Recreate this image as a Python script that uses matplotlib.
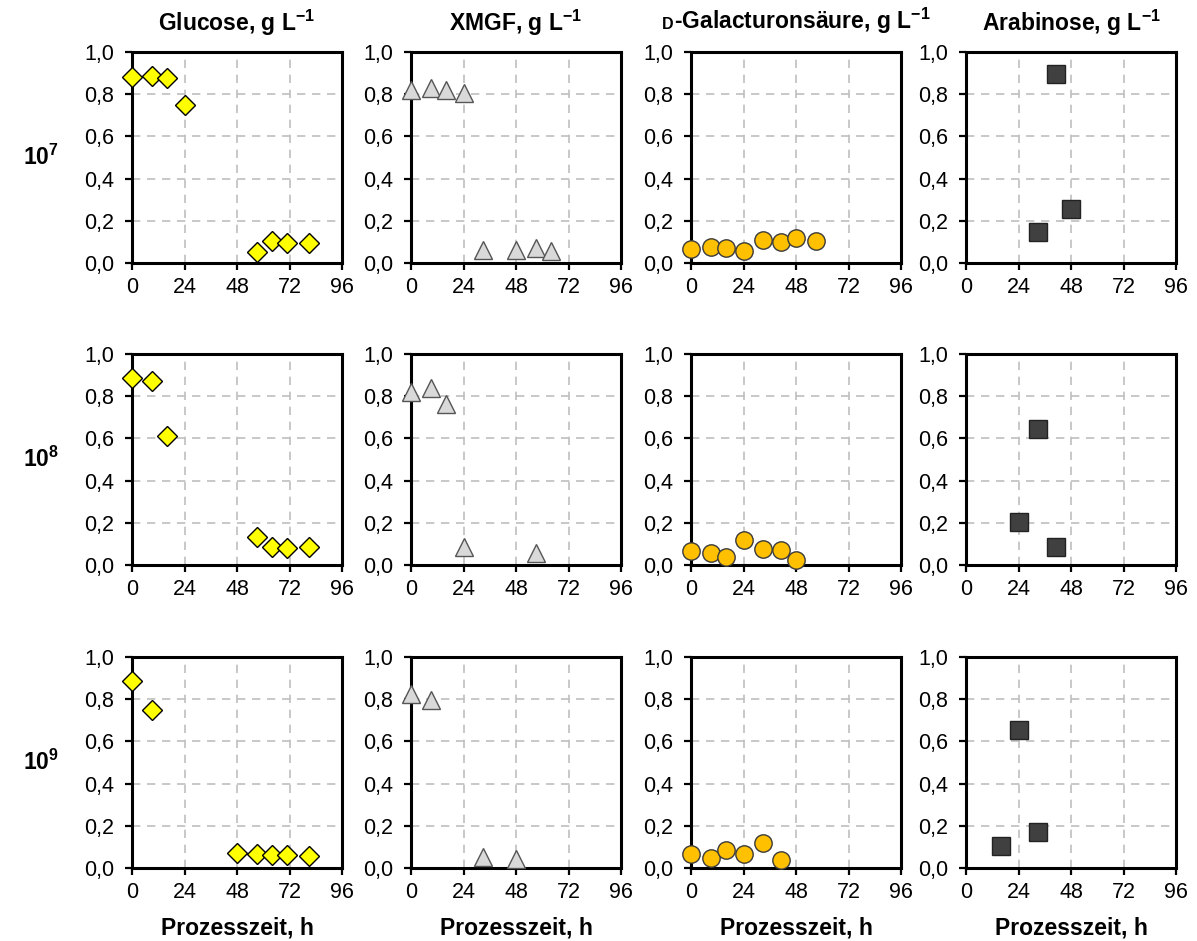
import matplotlib
matplotlib.use("Agg")
import matplotlib.pyplot as plt
from matplotlib.ticker import FuncFormatter
from matplotlib.offsetbox import TextArea, HPacker, AnchoredOffsetbox

plt.rcParams['font.family'] = ['Liberation Sans', 'DejaVu Sans']
plt.rcParams['mathtext.fontset'] = 'custom'
plt.rcParams['mathtext.rm'] = 'Liberation Sans'
plt.rcParams['mathtext.bf'] = 'Liberation Sans:bold'

# inoculum rows
rows = ["10$^{\\mathbf{7}}$", "10$^{\\mathbf{8}}$", "10$^{\\mathbf{9}}$"]

# Glucose
glc_t = [[0, 9, 16, 24, 57, 64, 71, 81],
         [0, 9, 16, 57, 64, 71, 81],
         [0, 9, 48, 57, 64, 71, 81]]
glc_c = [[0.88, 0.885, 0.875, 0.75, 0.05, 0.105, 0.095, 0.095],
         [0.885, 0.87, 0.61, 0.135, 0.085, 0.08, 0.085],
         [0.885, 0.75, 0.072, 0.065, 0.06, 0.063, 0.058]]

# XMGF
xmgf_t = [[0, 9, 16, 24, 33, 48, 57, 64],
          [0, 9, 16, 24, 57],
          [0, 9, 33, 48]]
xmgf_c = [[0.82, 0.83, 0.82, 0.805, 0.06, 0.06, 0.07, 0.055],
          [0.82, 0.84, 0.765, 0.085, 0.055],
          [0.825, 0.795, 0.05, 0.045]]

# D-Galacturonsaeure
gal_t = [[0, 9, 16, 24, 33, 41, 48, 57],
         [0, 9, 16, 24, 33, 41, 48],
         [0, 9, 16, 24, 33, 41]]
gal_c = [[0.065, 0.075, 0.07, 0.055, 0.11, 0.098, 0.12, 0.105],
         [0.066, 0.058, 0.037, 0.118, 0.074, 0.07, 0.024],
         [0.068, 0.046, 0.083, 0.064, 0.12, 0.04]]

# Arabinose
ara_t = [[33, 41, 48],
         [24, 33, 41],
         [16, 24, 33]]
ara_c = [[0.145, 0.895, 0.257],
         [0.205, 0.646, 0.083],
         [0.103, 0.652, 0.172]]

titles = ["Glucose, g L$^{\\mathbf{-1}}$", "XMGF, g L$^{\\mathbf{-1}}$",
          "-Galacturonsäure, g L$^{\\mathbf{-1}}$", "Arabinose, g L$^{\\mathbf{-1}}$"]
xticks = [0, 24, 48, 72, 96]
yticks = [0.0, 0.2, 0.4, 0.6, 0.8, 1.0]

series = [(glc_t, glc_c, dict(marker='D', ms=10.5, mfc='#FFFF00', mec='black', mew=1.0)),
          (xmgf_t, xmgf_c, dict(marker='^', ms=13, mfc='#D9D9D9', mec='#555555', mew=1.0)),
          (gal_t, gal_c, dict(marker='o', ms=12.5, mfc='#FFC000', mec='#3a3a3a', mew=1.0)),
          (ara_t, ara_c, dict(marker='s', ms=12.5, mfc='#404040', mec='#222222', mew=1.0))]

W, H = 1197, 941
fig = plt.figure(figsize=(W / 100, H / 100), dpi=100)

col_left = [132, 411, 691, 966]
row_top = [52, 354, 657]
aw, ah = 210, 211

for r in range(3):
    for c in range(4):
        ax = fig.add_axes([col_left[c] / W, 1 - (row_top[r] + ah) / H, aw / W, ah / H])
        t, v, style = series[c]
        ax.plot(t[r], v[r], linestyle='none', clip_on=False, zorder=5, **style)
        ax.set_xlim(0, 96)
        ax.set_ylim(0, 1)
        ax.set_xticks(xticks)
        ax.set_yticks(yticks)
        ax.yaxis.set_major_formatter(FuncFormatter(lambda y, p: f"{y:.1f}".replace('.', ',')))
        ax.grid(True, color='#BFBFBF', linestyle=(0, (5, 4)), linewidth=1.2)
        ax.set_axisbelow(True)
        for s in ax.spines.values():
            s.set_linewidth(2.2)
            s.set_color('black')
        ax.tick_params(axis='both', direction='out', length=5, width=1.6,
                       labelsize=15.5, color='black')
        ax.tick_params(axis='x', pad=5)
        ax.tick_params(axis='y', pad=8)
        if r == 0:
            if c == 2:
                small = TextArea("D", textprops=dict(fontsize=11.5, fontweight='bold'))
                big = TextArea(titles[c], textprops=dict(fontsize=16.5, fontweight='bold'))
                pack = HPacker(children=[small, big], align='baseline', pad=0, sep=0)
                box = AnchoredOffsetbox(loc='lower center', child=pack, pad=0, borderpad=0,
                                        frameon=False, bbox_to_anchor=(0.5, 1.075),
                                        bbox_transform=ax.transAxes)
                ax.add_artist(box)
            else:
                ax.set_title(titles[c], fontsize=16.5, fontweight='bold', pad=15)
        if r == 2:
            ax.set_xlabel("Prozesszeit, h", fontsize=16.5, fontweight='bold', labelpad=10)
    fig.text(41 / W, 1 - (row_top[r] + ah / 2) / H, rows[r], fontsize=16.5,
             fontweight='bold', ha='center', va='center')

fig.savefig("out.png", dpi=100)
